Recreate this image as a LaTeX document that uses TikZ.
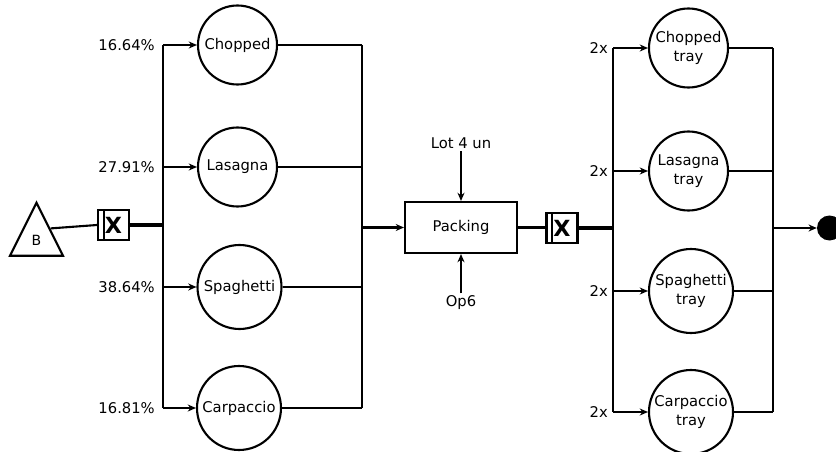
\documentclass[tikz,border=0pt]{standalone}
\usepackage{fontspec}
\setmainfont{DejaVu Sans}
\usepackage{tikz}
\usetikzlibrary{arrows.meta, shapes.geometric, positioning}

\tikzset{
    flow/.style={line width=1.8pt},
    bigflow/.style={line width=2.7pt},
    dish/.style={circle, draw, line width=1.8pt, minimum size=2.37cm, inner sep=0pt,
        align=center, font=\fontsize{12.6}{16.6}\selectfont},
    widedish/.style={dish, minimum size=2.52cm},
    share/.style={anchor=east, inner sep=0pt, font=\fontsize{12.6}{15.4}\selectfont},
    xbox/.style={rectangle, draw, line width=1.8pt, minimum width=0.93cm, minimum height=0.9cm,
        inner sep=0pt, font=\bfseries\fontsize{19}{19}\selectfont,
        path picture={\draw[line width=1.5pt]
            ([xshift=0.17cm]path picture bounding box.north west) --
            ([xshift=0.17cm]path picture bounding box.south west);}},
    stationbox/.style={rectangle, draw, line width=1.8pt, minimum width=3.36cm, minimum height=1.53cm,
        font=\fontsize{12.6}{15.4}\selectfont}
}

\begin{document}
\begin{tikzpicture}[>={Stealth[length=7pt, width=6pt]}, x=0.03cm, y=-0.03cm]

    \useasboundingbox (0,0) rectangle (836,452);

    % =================================================================
    % 1. NGUON VA BO TACH BEN TRAI
    % =================================================================
    \node[isosceles triangle, isosceles triangle stretches, shape border rotate=90, draw,
        line width=1.8pt, minimum width=1.59cm, minimum height=1.59cm, inner sep=0pt,
        anchor=apex, font=\fontsize{12}{14}\selectfont] (src) at (36.5,200) {B};
    \node[xbox] (XL) at (113.5,225) {X};

    % Thanh phan nhanh va thanh gom
    \coordinate (LbusTop) at (163,45);
    \coordinate (LbusBot) at (163,408);
    \coordinate (LjoinTop) at (362,45);
    \coordinate (LjoinBot) at (362,408);

    % Cac mon an ben trai
    \node[dish] (chopped) at (237.5,45) {Chopped};
    \node[dish] (lasagna) at (237.5,167) {Lasagna};
    \node[widedish] (spaghetti) at (239.5,287) {Spaghetti};
    \node[widedish] (carpaccio) at (239,408) {Carpaccio};

    % Ti le phan tram
    \node[share] at (155,45) {16.64\%};
    \node[share] at (155,167) {27.91\%};
    \node[share] at (155,287) {38.64\%};
    \node[share] at (155,408) {16.81\%};

    % =================================================================
    % 2. TRAM DONG GOI
    % =================================================================
    \node[stationbox] (pack) at (461,227.5) {Packing};
    \node[font=\fontsize{12.6}{15.4}\selectfont, inner sep=2pt] (lot) at (461,143) {Lot 4 un};
    \node[font=\fontsize{12.6}{15.4}\selectfont, inner sep=2pt] (op) at (461,303) {Op6};
    \node[xbox] (XR) at (562,228) {X};

    % =================================================================
    % 3. CAC KHAY BEN PHAI
    % =================================================================
    \coordinate (RbusTop) at (613,48);
    \coordinate (RbusBot) at (613,412);
    \coordinate (RjoinTop) at (773,48);
    \coordinate (RjoinBot) at (773,412);

    \node[dish] (choppedtray) at (688.5,48) {Chopped\\tray};
    \node[dish] (lasagnatray) at (688.5,171) {Lasagna\\tray};
    \node[widedish] (spaghettitray) at (691,291) {Spaghetti\\tray};
    \node[widedish] (carpacciotray) at (691,412) {Carpaccio\\tray};

    \node[share] at (608,48) {2x};
    \node[share] at (608,171) {2x};
    \node[share] at (608,291) {2x};
    \node[share] at (608,412) {2x};

    \node[circle, fill=black, minimum size=0.75cm, inner sep=0pt] (sink) at (829.5,228) {};

    % =================================================================
    % 4. CAC DUONG NOI
    % =================================================================
    \draw[flow] (src.right side) -- (XL.west);
    \draw[bigflow] (XL.east) -- (XL.east -| LbusTop);
    \draw[flow] (LbusTop) -- (LbusBot);
    \foreach \d in {chopped, lasagna, spaghetti, carpaccio} {
        \draw[flow, ->] (\d.west -| LbusTop) -- (\d.west);
        \draw[flow] (\d.east) -- (\d.east -| LjoinTop);
    }
    \draw[flow] (LjoinTop) -- (LjoinBot);
    \draw[bigflow, ->] (pack.west -| LjoinTop) -- (pack.west);

    \draw[flow, ->] (lot) -- (pack);
    \draw[flow, ->] (op) -- (pack);
    \draw[flow] (pack.east) -- (pack.east -| XR.west);

    \draw[bigflow] (XR.east) -- (XR.east -| RbusTop);
    \draw[flow] (RbusTop) -- (RbusBot);
    \foreach \d in {choppedtray, lasagnatray, spaghettitray, carpacciotray} {
        \draw[flow, ->] (\d.west -| RbusTop) -- (\d.west);
        \draw[flow] (\d.east) -- (\d.east -| RjoinTop);
    }
    \draw[flow] (RjoinTop) -- (RjoinBot);
    \draw[flow, ->] (sink.west -| RjoinTop) -- (sink.west);

\end{tikzpicture}
\end{document}
